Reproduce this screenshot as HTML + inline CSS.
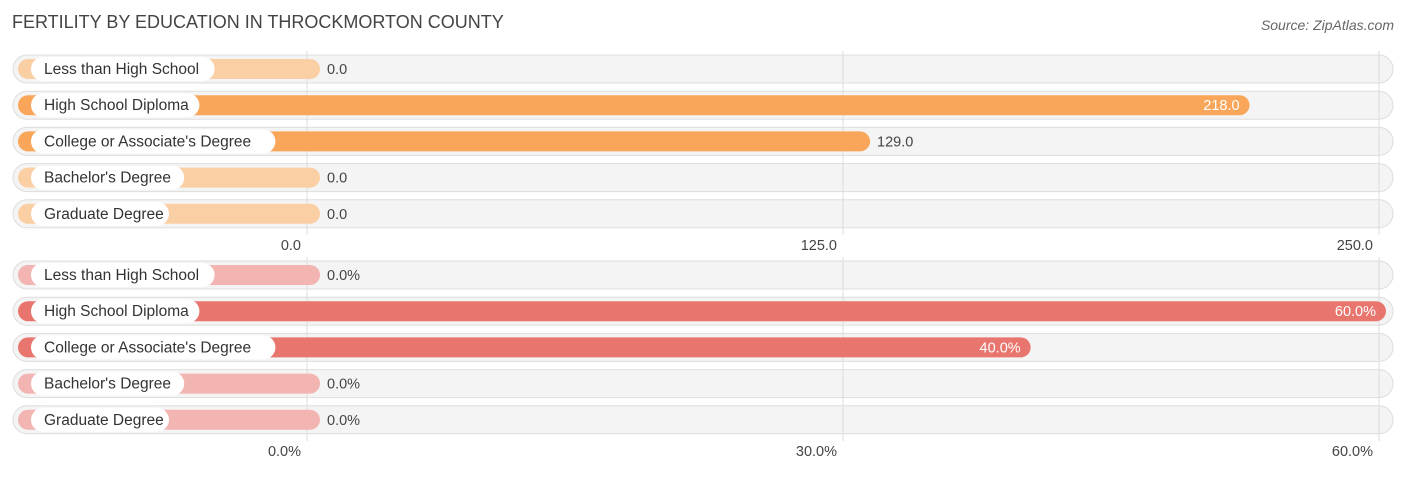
<!DOCTYPE html>
<html><head><meta charset="utf-8"><style>
body{margin:0;background:#fff;font-family:"Liberation Sans",sans-serif;}
</style></head><body>
<svg id="c" width="1406" height="475" xmlns="http://www.w3.org/2000/svg">
<text x="12" y="28" font-size="18" fill="#444">FERTILITY BY EDUCATION IN THROCKMORTON COUNTY</text>
<text x="1394" y="30" font-size="14" fill="#666" font-style="italic" text-anchor="end">Source: ZipAtlas.com</text>
</svg>
<script>
const categories = ["Less than High School","High School Diploma","College or Associate's Degree","Bachelor's Degree","Graduate Degree"];
const countValues = [0, 218, 129, 0, 0];
const pctValues = [0, 60, 40, 0, 0];
const countTicks = ["0.0","125.0","250.0"];
const pctTicks = ["0.0%","30.0%","60.0%"];
const NS="http://www.w3.org/2000/svg";
const svg=document.getElementById('c');
function mk(t,a,p){const e=document.createElementNS(NS,t);for(const k in a)e.setAttribute(k,a[k]);(p||svg).appendChild(e);return e;}
function panel(vals,ticks,max,top,axisY,full,light,suffix,name){
  const x0=18, zeroEnd=320, xMax=1386;
  const xs=v=>zeroEnd+v/max*(xMax-zeroEnd);
  const gx=[307,843,1379];
  vals.forEach((v,i)=>{
    const cy=top+i*36.2;
    const t=mk('rect',{x:13,y:cy-14,width:1380,height:28,rx:14,fill:'#f4f4f4',stroke:'#ddd'});
    
    
  });
  ticks.forEach((t,i)=>{
    const l=mk('line',{x1:gx[i],x2:gx[i],y1:top-18,y2:axisY-10,stroke:'#ddd','stroke-width':1});
    
    
    const tx=mk('text',{x:gx[i]-6,y:axisY+5,'font-size':14.5,fill:'#444','text-anchor':'end'});
    tx.textContent=t;
    
    
  });
  vals.forEach((v,i)=>{
    const cy=top+i*36.2;
    const g=mk('g',{});
    
    
    const w=xs(v)-x0;
    const b=mk('rect',{x:x0,y:cy-10,width:w,height:20,rx:10,fill:v>0?full:light},g);
    
    
    const lw=categories[i].length*7.6+24;
    mk('rect',{x:31,y:cy-12,width:lw,height:24,rx:12,fill:'#fff'},g);
    const lt=mk('text',{x:44,y:cy+5,'font-size':15.5,fill:'#333'},g);
    lt.textContent=categories[i];
    
    
    const vt=mk('text',{'font-size':14.5},g);
    vt.textContent=v.toFixed(1)+suffix;
    if(v>max*0.6){vt.setAttribute('x',xs(v)-10);vt.setAttribute('text-anchor','end');vt.setAttribute('fill','#fff');}
    else{vt.setAttribute('x',xs(v)+7);vt.setAttribute('fill','#444');}
    vt.setAttribute('y',cy+5);
    
    
  });
}
panel(countValues,countTicks,250,69,245,'#f9a65a','#fbcfa4','','count');
panel(pctValues,pctTicks,60,275,451,'#e8766f','#f2b5b1','%','percent');
</script>
</body></html>
